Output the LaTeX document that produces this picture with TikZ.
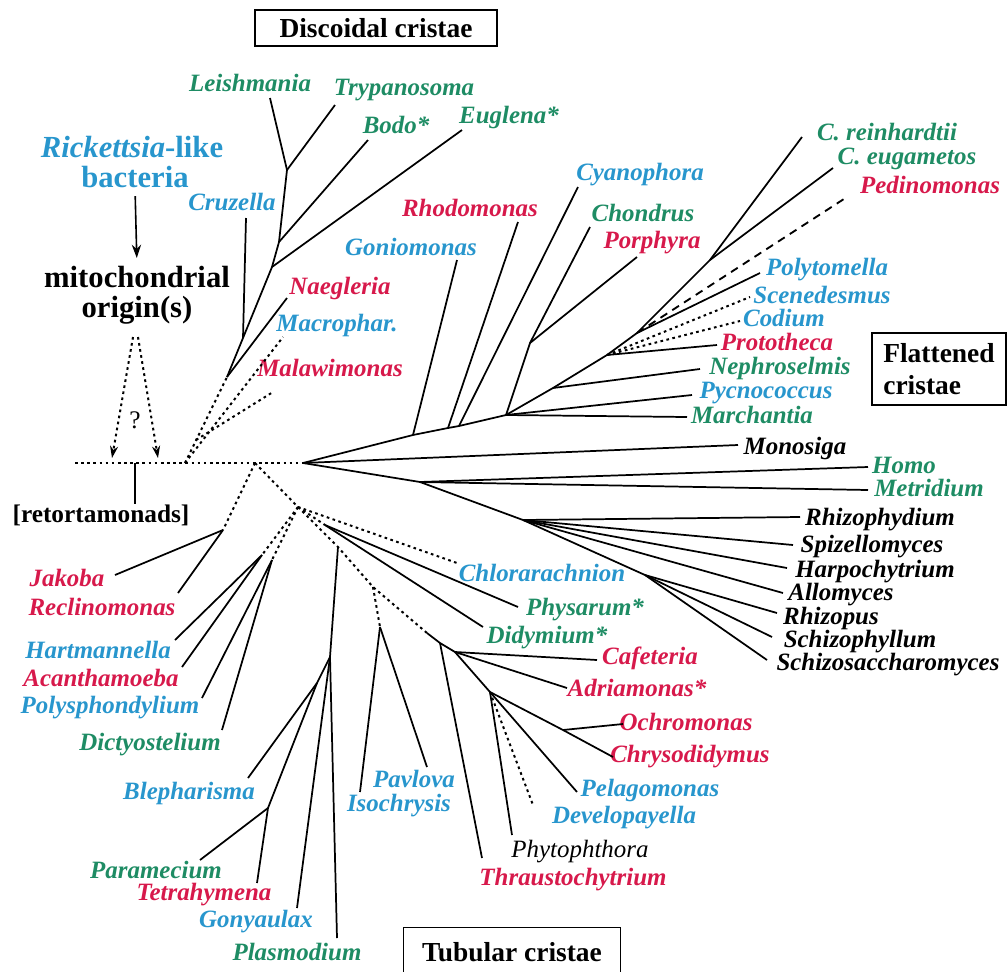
\documentclass[tikz,border=0pt]{standalone}
\usepackage{fontspec}
\setmainfont{Liberation Serif}
\usepackage{xcolor}
\usetikzlibrary{arrows.meta}
\definecolor{tgreen}{RGB}{30,140,100}
\definecolor{tblue}{RGB}{40,150,205}
\definecolor{tred}{RGB}{215,25,75}

\begin{document}
\begin{tikzpicture}[x=0.75pt, y=-0.75pt,
  every node/.style={font=\fontsize{18.7}{22}\selectfont\bfseries\itshape, inner sep=0pt},
  br/.style={line width=1.3pt},
  dotbr/.style={line width=1.5pt, dash pattern=on 2pt off 2.6pt},
  dashbr/.style={line width=1.4pt, dash pattern=on 6pt off 4.5pt},
  grn/.style={text=tgreen}, blu/.style={text=tblue}, rd/.style={text=tred},
  big/.style={font=\fontsize{23}{26}\selectfont\bfseries},
  cristbox/.style={draw, line width=1pt, font=\fontsize{20.6}{24}\selectfont\bfseries}]
\useasboundingbox (0,0) rectangle (1008,972);
\clip (0,0) rectangle (1008,972);

% boxes
\node[cristbox, minimum width=181.5pt, minimum height=27pt] (discbox) at (376,28) {Discoidal cristae};
\node[cristbox, minimum width=100.5pt, minimum height=54pt, align=left] (flatbox) at (939,369) {Flattened\\cristae};
\node[cristbox, minimum width=162.75pt, inner ysep=11pt] (tubbox) at (512,952) {Tubular cristae};

% origin
\node[big, blu] (rick) at (132,147) {{\itshape Rickettsia}-like};
\node[big, blu] (bact) at (135,177) {bacteria};
\node[big] (mito) at (137,277) {mitochondrial};
\node[big] (orig) at (137,310) {origin(s)};
\node[font=\fontsize{19}{22}\selectfont] (quest) at (135,420) {?};
\node[font=\fontsize{19}{22}\selectfont\bfseries] (retort) at (101,515) {[retortamonads]};
\draw[line width=1.2pt, -{Stealth[length=10pt,width=7pt]}, shorten <=6pt, shorten >=6pt] (bact.south) -- (mito.north);
\coordinate (oaL) at (133,337);
\coordinate (oaR) at (138,337);
\coordinate (obL) at (112,458);
\coordinate (obR) at (158,458);
\draw[dotbr, -{Stealth[length=9pt,width=6pt]}] (oaL) -- (obL);
\draw[dotbr, -{Stealth[length=9pt,width=6pt]}] (oaR) -- (obR);

% backbone
\coordinate (dotL) at (75,463);
\coordinate (retJ) at (135,463);
\coordinate (retE) at (135,504);
\coordinate (forkU) at (185,463);
\coordinate (forkD) at (255,463);
\coordinate (root) at (303,463);
\draw[dotbr] (dotL) -- (retJ) -- (forkU) -- (forkD) -- (root);
\draw[br] (retJ) -- (retE);

% discoidal cristae
\node[grn] (leish) at (250,83) {Leishmania};
\node[grn] (trypa) at (404,90) {Trypanosoma};
\node[grn] (bodo) at (396,125) {Bodo*};
\node[grn] (eugl) at (509,117) {Euglena*};
\node[blu] (cruz) at (232,202) {Cruzella};
\node[rd] (naeg) at (340,288) {Naegleria};
\node[blu] (macro) at (337,325) {Macrophar.};
\node[rd] (malaw) at (330,368) {Malawimonas};
\coordinate (disB) at (196,440);
\coordinate (eu0) at (227,377);
\coordinate (eu1) at (243,338);
\coordinate (eu2) at (272,267);
\coordinate (eu3) at (279,242);
\coordinate (eu4) at (287,170);
\coordinate (leishE) at (270,98);
\coordinate (trypaE) at (335,105);
\coordinate (bodoE) at (368,140);
\coordinate (euglE) at (462,130);
\coordinate (cruzE) at (246,218);
\coordinate (naegE) at (287,298);
\coordinate (macroE) at (283,337);
\coordinate (malawE) at (273,392);
\draw[br] (eu0) -- (eu1) -- (eu2) -- (eu3) -- (eu4) -- (leishE);
\draw[br] (eu4) -- (trypaE);
\draw[br] (eu3) -- (bodoE);
\draw[br] (eu2) -- (euglE);
\draw[br] (eu1) -- (cruzE);
\draw[br] (eu0) -- (naegE);
\draw[dotbr] (forkU) -- (eu0);
\draw[dotbr] (forkU) -- (macroE);
\draw[dotbr] (disB) -- (malawE);

% flattened cristae
\node[blu] (goni) at (411,247) {Goniomonas};
\node[rd] (rhodo) at (470,208) {Rhodomonas};
\node[blu] (cyano) at (640,175) {Cyanophora};
\node[grn] (chond) at (643,213) {Chondrus};
\node[rd] (porph) at (652,243) {Porphyra};
\node[grn] (crein) at (887,132) {C. reinhardtii};
\node[grn] (cegam) at (907,159) {C. eugametos};
\node[rd] (pedin) at (930,185) {Pedinomonas};
\node[blu] (polyt) at (827,270) {Polytomella};
\node[blu] (scene) at (822,295) {Scenedesmus};
\node[blu] (codi) at (784,318) {Codium};
\node[rd] (proto) at (777,342) {Prototheca};
\node[grn] (nephr) at (780,368) {Nephroselmis};
\node[blu] (pycno) at (766,393) {Pycnococcus};
\node[grn] (march) at (752,415) {Marchantia};
\coordinate (pl1) at (413,435);
\coordinate (pl2) at (448,428);
\coordinate (pl3) at (459,426);
\coordinate (pl4) at (506,415);
\coordinate (pl6) at (553,388);
\coordinate (plB) at (607,355);
\coordinate (plC) at (637,333);
\coordinate (plD) at (710,260);
\coordinate (plQ) at (530,343);
\coordinate (goniE) at (457,260);
\coordinate (rhodoE) at (518,222);
\coordinate (cyanoE) at (578,187);
\coordinate (chondE) at (590,227);
\coordinate (porphE) at (637,257);
\coordinate (creinE) at (802,137);
\coordinate (cegamE) at (833,168);
\coordinate (pedinE) at (847,197);
\coordinate (polytE) at (760,273);
\coordinate (sceneE) at (750,297);
\coordinate (codiE) at (740,321);
\coordinate (protoE) at (717,345);
\coordinate (nephrE) at (700,369);
\coordinate (pycnoE) at (692,395);
\coordinate (marchE) at (687,417);
\draw[br] (root) -- (pl1) -- (pl2) -- (pl3) -- (pl4) -- (pl6) -- (plB) -- (plC) -- (plD) -- (creinE);
\draw[br] (plD) -- (cegamE);
\draw[br] (plC) -- (polytE);
\draw[dashbr] (plC) -- (pedinE);
\draw[dotbr] (plB) -- (sceneE);
\draw[dotbr] (plB) -- (codiE);
\draw[br] (plB) -- (protoE);
\draw[br] (pl6) -- (nephrE);
\draw[br] (pl4) -- (pycnoE);
\draw[br] (pl4) -- (marchE);
\draw[br] (pl1) -- (goniE);
\draw[br] (pl2) -- (rhodoE);
\draw[br] (pl3) -- (cyanoE);
\draw[br] (pl4) -- (plQ) -- (chondE);
\draw[br] (plQ) -- (porphE);

% animals and fungi
\node (monos) at (795,448) {Monosiga};
\node[grn] (homo) at (904,465) {Homo};
\node[grn] (metri) at (929,488) {Metridium};
\node (rhzph) at (880,520) {Rhizophydium};
\node (spizl) at (872,547) {Spizellomyces};
\node (harpo) at (875,572) {Harpochytrium};
\node (allom) at (841,595) {Allomyces};
\node (rhzps) at (831,618) {Rhizopus};
\node (schph) at (860,642) {Schizophyllum};
\node (schsa) at (888,665) {Schizosaccharomyces};
\coordinate (op1) at (420,482);
\coordinate (op2) at (523,520);
\coordinate (op3) at (645,575);
\coordinate (monosE) at (738,445);
\coordinate (homoE) at (868,467);
\coordinate (metriE) at (868,490);
\coordinate (rhzphE) at (800,517);
\coordinate (spizlE) at (793,545);
\coordinate (harpoE) at (787,568);
\coordinate (allomE) at (783,593);
\coordinate (rhzpsE) at (777,613);
\coordinate (schphE) at (772,637);
\coordinate (schsaE) at (767,660);
\draw[br] (root) -- (monosE);
\draw[br] (root) -- (op1) -- (homoE);
\draw[br] (op1) -- (metriE);
\draw[br] (op1) -- (op2) -- (op3) -- (rhzpsE);
\draw[br] (op2) -- (rhzphE);
\draw[br] (op2) -- (spizlE);
\draw[br] (op2) -- (harpoE);
\draw[br] (op2) -- (allomE);
\draw[br] (op3) -- (schphE);
\draw[br] (op3) -- (schsaE);

% tubular cristae
\node[rd] (jakob) at (67,578) {Jakoba};
\node[rd] (recli) at (102,607) {Reclinomonas};
\node[blu] (hartm) at (98,650) {Hartmannella};
\node[rd] (acant) at (101,678) {Acanthamoeba};
\node[blu] (polys) at (110,708) {Polysphondylium};
\node[grn] (dicty) at (150,745) {Dictyostelium};
\node[blu] (bleph) at (189,793) {Blepharisma};
\node[grn] (param) at (156,870) {Paramecium};
\node[rd] (tetra) at (204,895) {Tetrahymena};
\node[blu] (gonya) at (256,922) {Gonyaulax};
\node[grn] (plasm) at (297,952) {Plasmodium};
\node[blu] (pavlo) at (414,779) {Pavlova};
\node[blu] (isoch) at (399,806) {Isochrysis};
\node[blu] (chlor) at (542,573) {Chlorarachnion};
\node[grn] (physa) at (585,610) {Physarum*};
\node[grn] (didym) at (547,638) {Didymium*};
\node[rd] (cafet) at (650,658) {Cafeteria};
\node[rd] (adria) at (637,688) {Adriamonas*};
\node[rd] (ochro) at (686,722) {Ochromonas};
\node[rd] (chrys) at (690,757) {Chrysodidymus};
\node[blu] (pelag) at (650,790) {Pelagomonas};
\node[blu] (devel) at (624,818) {Developayella};
\node[font=\fontsize{18.7}{22}\selectfont\itshape] (phyto) at (580,852) {Phytophthora};
\node[rd] (thrau) at (573,880) {Thraustochytrium};
\coordinate (jakN) at (223,530);
\coordinate (tu0) at (298,507);
\coordinate (amN1) at (262,555);
\coordinate (amN2) at (272,560);
\coordinate (tu1) at (325,525);
\coordinate (tu2) at (338,547);
\coordinate (tu3) at (373,587);
\coordinate (hapN) at (380,627);
\coordinate (strN) at (427,633);
\coordinate (alvN) at (330,657);
\coordinate (cilN) at (317,683);
\coordinate (cil2) at (268,808);
\coordinate (thrN) at (440,643);
\coordinate (stA) at (455,652);
\coordinate (stB) at (490,692);
\coordinate (ochN) at (563,730);
\coordinate (jakobE) at (115,575);
\coordinate (recliE) at (178,593);
\coordinate (hartmE) at (175,640);
\coordinate (acantE) at (182,667);
\coordinate (polysE) at (202,698);
\coordinate (dictyE) at (222,730);
\coordinate (chlorE) at (457,563);
\coordinate (physaE) at (518,607);
\coordinate (didymE) at (483,627);
\coordinate (blephE) at (248,778);
\coordinate (paramE) at (200,860);
\coordinate (tetraE) at (257,883);
\coordinate (gonyaE) at (297,908);
\coordinate (plasmE) at (337,938);
\coordinate (pavloE) at (427,767);
\coordinate (isochE) at (360,792);
\coordinate (cafetE) at (597,660);
\coordinate (adriaE) at (567,688);
\coordinate (ochroE) at (623,724);
\coordinate (chrysE) at (613,757);
\coordinate (pelagE) at (577,792);
\coordinate (develE) at (533,805);
\coordinate (phytoE) at (512,835);
\coordinate (thrauE) at (482,858);
\draw[dotbr] (forkD) -- (jakN);
\draw[dotbr] (forkD) -- (tu0) -- (chlorE);
\draw[dotbr] (tu0) -- (amN1);
\draw[dotbr] (tu0) -- (amN2);
\draw[dotbr] (tu0) -- (tu1);
\draw[dotbr] (tu0) -- (tu2) -- (tu3) -- (strN);
\draw[dotbr] (tu3) -- (hapN);
\draw[br] (jakN) -- (jakobE);
\draw[br] (jakN) -- (recliE);
\draw[br] (amN1) -- (hartmE);
\draw[br] (amN1) -- (acantE);
\draw[br] (amN2) -- (polysE);
\draw[br] (amN2) -- (dictyE);
\draw[br] (tu1) -- (physaE);
\draw[br] (tu1) -- (didymE);
\draw[br] (tu2) -- (alvN) -- (plasmE);
\draw[br] (alvN) -- (gonyaE);
\draw[br] (alvN) -- (cilN) -- (blephE);
\draw[br] (cilN) -- (cil2) -- (paramE);
\draw[br] (cil2) -- (tetraE);
\draw[br] (hapN) -- (pavloE);
\draw[br] (hapN) -- (isochE);
\draw[br] (strN) -- (thrN) -- (stA) -- (stB) -- (pelagE);
\draw[br] (stA) -- (cafetE);
\draw[br] (stA) -- (adriaE);
\draw[br] (thrN) -- (thrauE);
\draw[br] (stB) -- (phytoE);
\draw[dotbr] (stB) -- (develE);
\draw[br] (stB) -- (ochN) -- (chrysE);
\draw[br] (ochN) -- (ochroE);
\end{tikzpicture}
\end{document}
